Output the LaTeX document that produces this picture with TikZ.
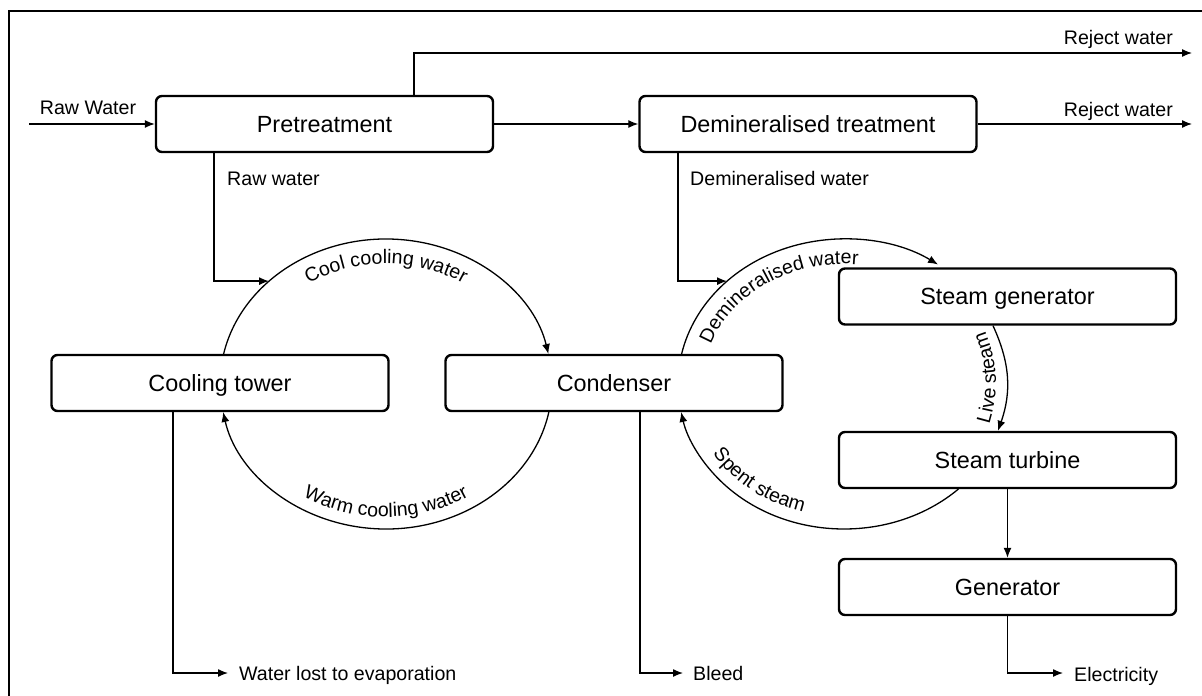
\documentclass[tikz,border=0pt]{standalone}
\usepackage{fontspec}
\setmainfont{Liberation Sans}
\usetikzlibrary{arrows.meta,calc,decorations.text}
\newcommand\boxfont{\fontsize{23.4pt}{28pt}\selectfont}
\newcommand\lblfont{\fontsize{19.6pt}{23pt}\selectfont}

\begin{document}
\begin{tikzpicture}[x=1pt,y=1pt,
  unit/.style={draw, line width=2.4pt, rounded corners=6pt, minimum width=337pt,
    minimum height=56pt, inner sep=0pt, font=\boxfont, text height=16.8pt, text depth=0pt},
  lbl/.style={font=\lblfont, inner sep=0pt},
  conn/.style={line width=1.3pt},
  arr/.style={conn, -{Latex[length=10pt,width=8pt]}},
]
\useasboundingbox (0,0) rectangle (1202,-696);

% frame
\draw[line width=2pt] (9,-700) -- (9,-11) -- (1206,-11);

% process units
\node[unit] (pre)  at (324.5,-124) {Pretreatment};
\node[unit] (dem)  at (808,-124)   {Demineralised treatment};
\node[unit] (ct)   at (220,-383)   {Cooling tower};
\node[unit] (cond) at (614,-383)   {Condenser};
\node[unit] (sg)   at (1007.5,-296.5) {Steam generator};
\node[unit] (st)   at (1007.5,-460) {Steam turbine};
\node[unit] (gen)  at (1007.5,-587) {Generator};

% centres of the two loops
\coordinate (CC) at (386,-384);
\coordinate (SC) at (844,-384);

% raw water in, pretreatment, reject streams
\coordinate (rawin) at (29,-124);
\draw[arr] (rawin) -- (pre);
\node[lbl, anchor=base] at (88,-114) {Raw Water};
\draw[arr] (pre) -- (dem);
\coordinate (rjx) at (414,0);
\coordinate (rej1) at (1192,-53);
\draw[arr] (pre.north -| rjx) |- (rej1);
\node[lbl, anchor=base east] at (1173,-44) {Reject water};
\coordinate (rej2) at (1192,-124);
\draw[arr] (dem) -- (rej2);
\node[lbl, anchor=base east] at (1173,-116) {Reject water};

% feeds into the loops
\coordinate (rwx) at (214,0);
\coordinate (cin) at ($(CC)+(134.8:166 and 145)$);
\draw[arr] (pre.south -| rwx) |- (cin);
\node[lbl, anchor=base west] at (227,-185) {Raw water};
\coordinate (dwx) at (678,0);
\coordinate (din) at ($(SC)+(134.8:166 and 145)$);
\draw[arr] (dem.south -| dwx) |- (din);
\node[lbl, anchor=base west] at (690,-185) {Demineralised water};

% cooling water loop
\draw[arr] ($(CC)+(168.06:166 and 145)$) arc[start angle=168.06, end angle=11.94, x radius=166, y radius=145];
\draw[arr] ($(CC)+(-11.13:166 and 145)$) arc[start angle=-11.13, end angle=-168.87, x radius=166, y radius=145];
\path[decorate, decoration={text along path, text align=center, text={|\lblfont|Cool cooling water}}]
  ($(CC)+(168:141 and 120)$) arc[start angle=168, end angle=12, x radius=141, y radius=120];
\path[decorate, decoration={text along path, text align=center, text={|\lblfont|Warm cooling water}}]
  ($(CC)+(-168:154 and 133)$) arc[start angle=-168, end angle=-12, x radius=154, y radius=133];

% water / steam loop
\draw[arr] ($(SC)+(168.06:166 and 145)$) arc[start angle=168.06, end angle=55.5, x radius=166, y radius=145];
\draw[arr] ($(SC)+(-46.4:166 and 145)$) arc[start angle=-46.4, end angle=-168.87, x radius=166, y radius=145];
\path[decorate, decoration={text along path, text align=center, text={|\lblfont|Demineralised water}}]
  ($(SC)+(168:141 and 120)$) arc[start angle=168, end angle=78, x radius=141, y radius=120];
\path[decorate, decoration={text along path, text align=center, text={|\lblfont|Spent steam}}]
  ($(SC)+(-168:154 and 133)$) arc[start angle=-168, end angle=-88, x radius=154, y radius=133];

% live steam
\coordinate (lsa) at (993,0);
\coordinate (lsb) at (998,0);
\coordinate (lta) at (981,-322);
\coordinate (ltb) at (986,-434);
\draw[arr] (sg.south -| lsa) to[bend left=22] (st.north -| lsb);
\path[decorate, decoration={text along path, text align=center, text={|\lblfont|Live steam}}]
  (ltb) to[bend right=22] (lta);

% turbine to generator, outputs
\draw[arr] (st) -- (gen);
\coordinate (elec) at (1063,-673);
\draw[arr] (gen) |- (elec);
\node[lbl, anchor=base west] at (1074,-681) {Electricity};
\coordinate (evx) at (173,0);
\coordinate (evap) at (228,-673);
\draw[arr] (ct.south -| evx) |- (evap);
\node[lbl, anchor=base west] at (239,-680) {Water lost to evaporation};
\coordinate (blx) at (640,0);
\coordinate (bleed) at (683,-673);
\draw[arr] (cond.south -| blx) |- (bleed);
\node[lbl, anchor=base west] at (693,-680) {Bleed};
\end{tikzpicture}
\end{document}
